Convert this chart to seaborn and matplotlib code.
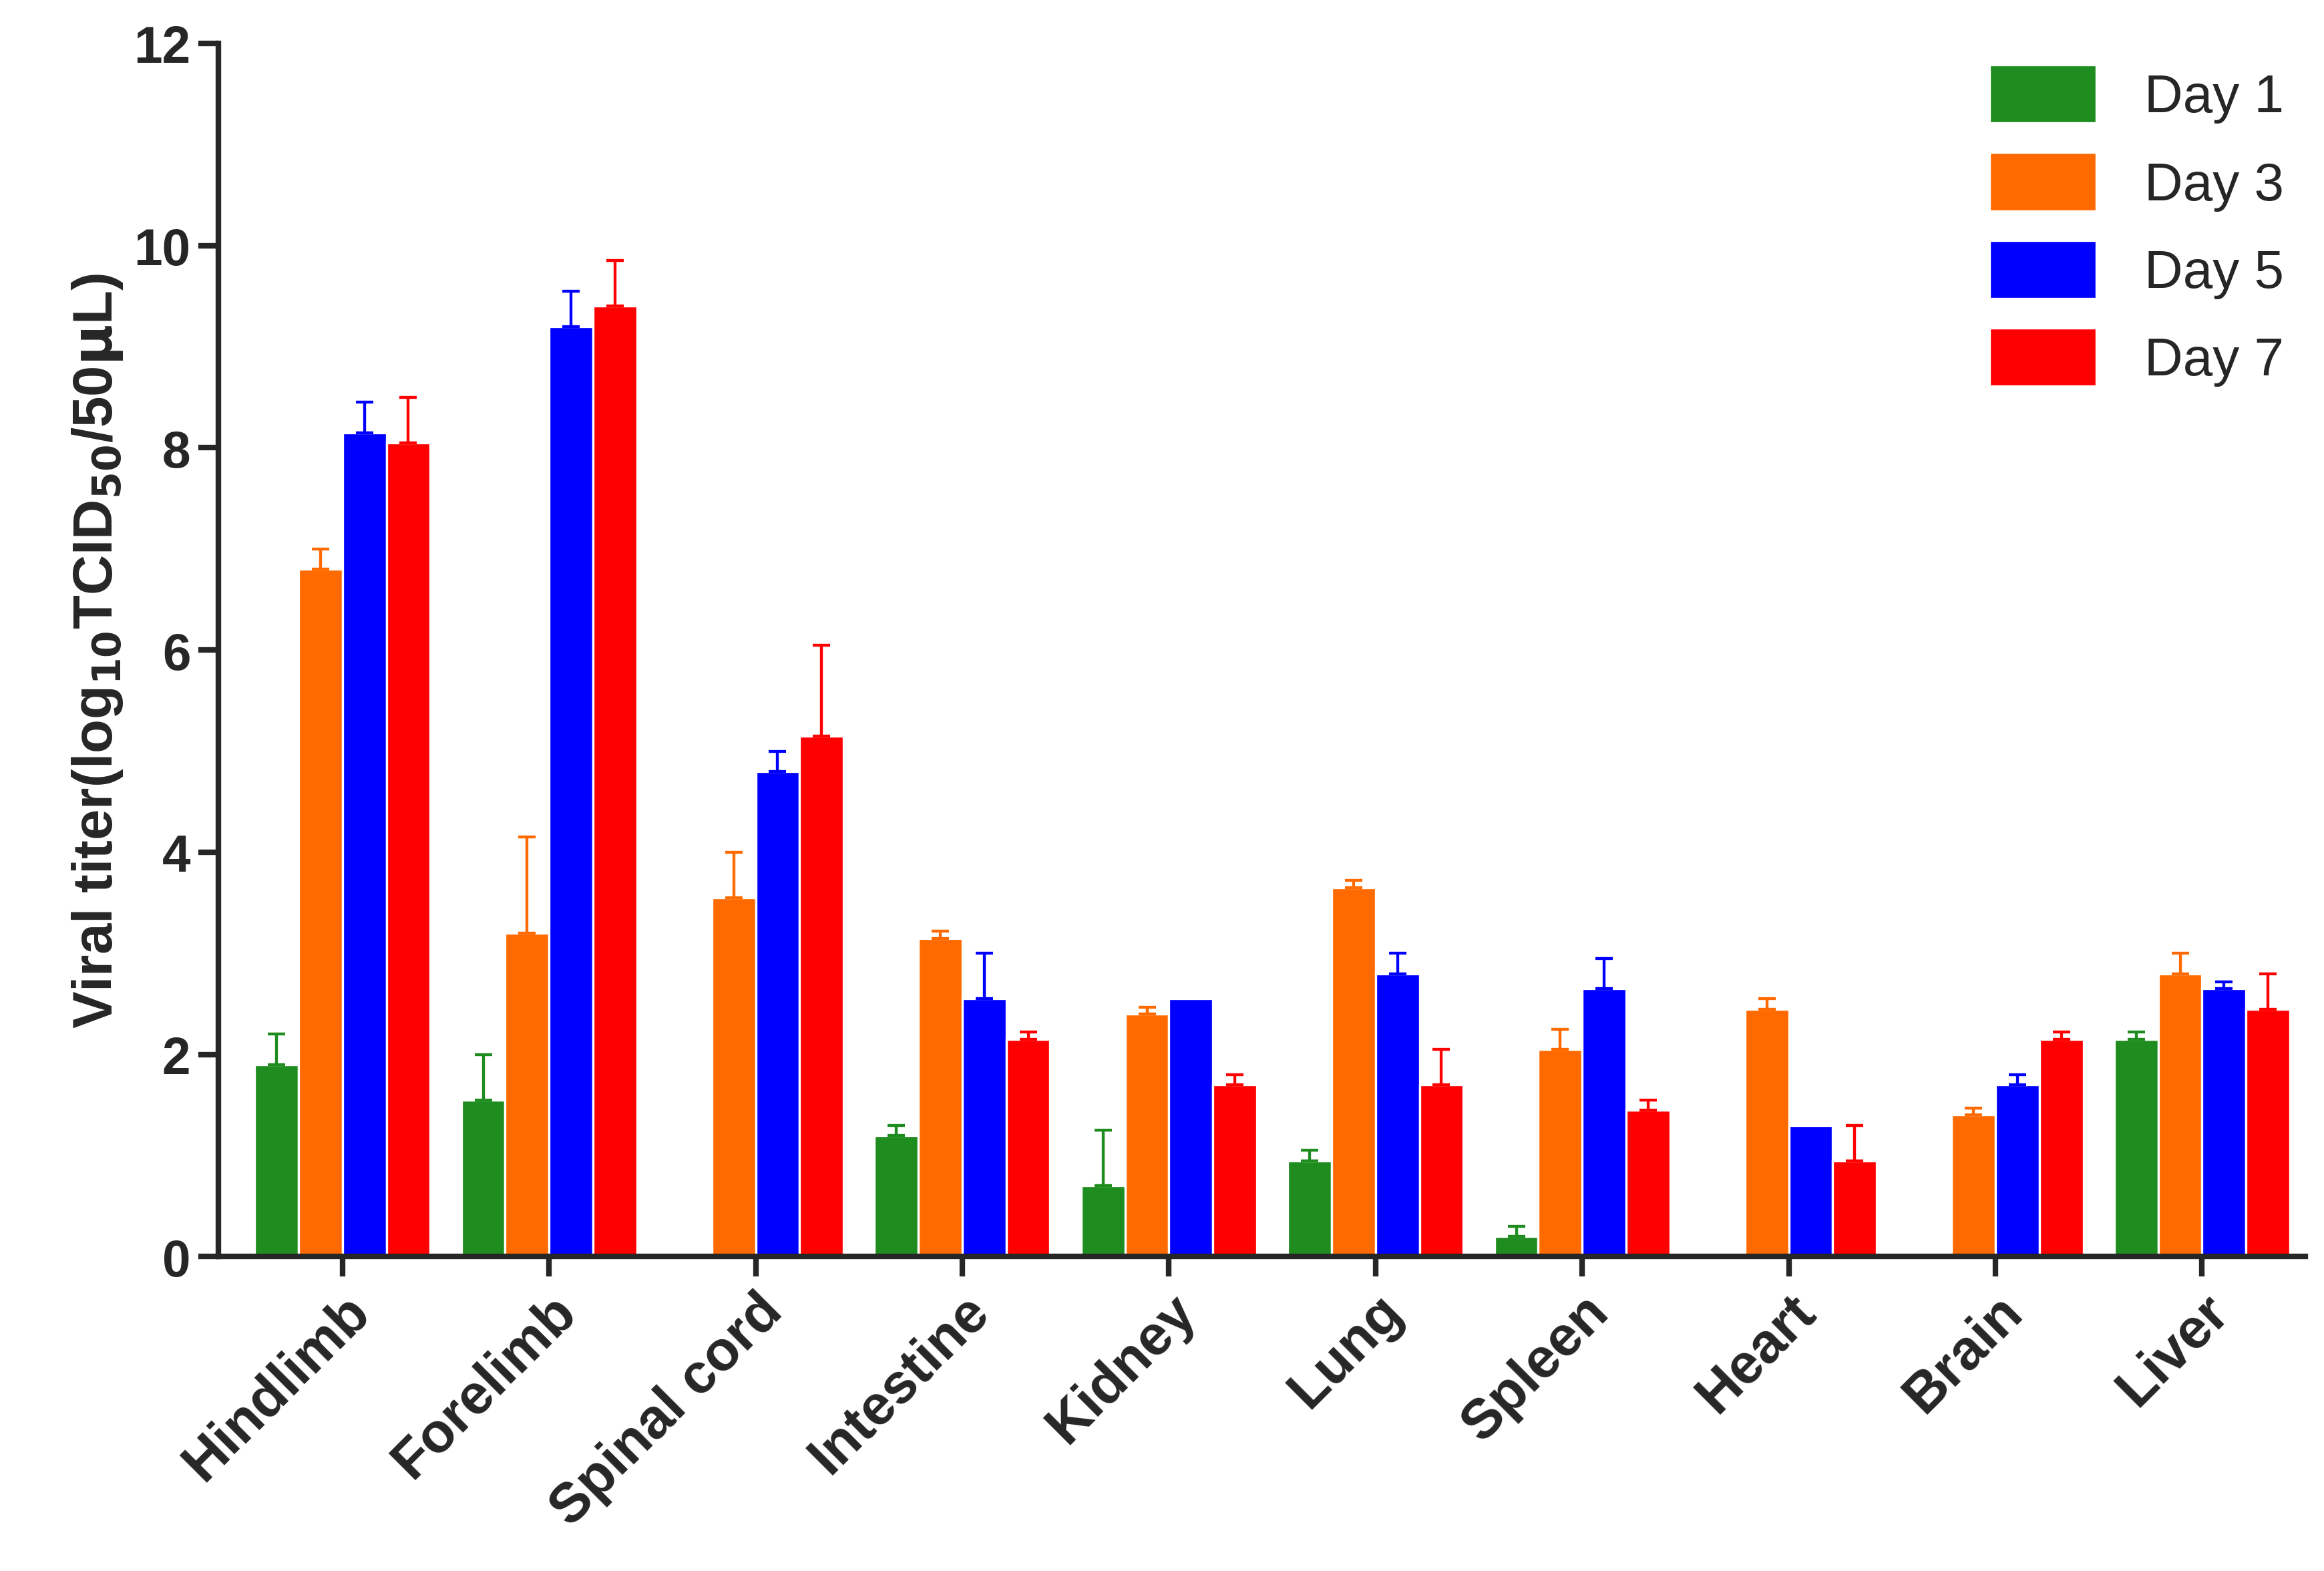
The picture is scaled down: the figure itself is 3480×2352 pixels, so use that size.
import numpy as np
import pandas as pd
import matplotlib
matplotlib.use("Agg")
import matplotlib.pyplot as plt
import seaborn as sns

tissues = ["Hindlimb", "Forelimb", "Spinal cord", "Intestine", "Kidney",
           "Lung", "Spleen", "Heart", "Brain", "Liver"]
days = ["Day 1", "Day 3", "Day 5", "Day 7"]
day1 = [1.9, 1.55, 0, 1.2, 0.7, 0.95, 0.2, 0, 0, 2.15]
day3 = [6.8, 3.2, 3.55, 3.15, 2.4, 3.65, 2.05, 2.45, 1.4, 2.8]
day5 = [8.15, 9.2, 4.8, 2.55, 2.55, 2.8, 2.65, 1.3, 1.7, 2.65]
day7 = [8.05, 9.4, 5.15, 2.15, 1.7, 1.7, 1.45, 0.95, 2.15, 2.45]
err1 = [0.3, 0.45, 0, 0.1, 0.55, 0.1, 0.1, 0, 0, 0.07]
err3 = [0.2, 0.95, 0.45, 0.07, 0.07, 0.07, 0.2, 0.1, 0.07, 0.2]
err5 = [0.3, 0.35, 0.2, 0.45, 0, 0.2, 0.3, 0, 0.1, 0.07]
err7 = [0.45, 0.45, 0.9, 0.07, 0.1, 0.35, 0.1, 0.35, 0.07, 0.35]
colors = ["#1E8C1E", "#FF6A00", "#0000FF", "#FF0000"]

values = [day1, day3, day5, day7]
errors = [err1, err3, err5, err7]
rows = []
for d, vals in zip(days, values):
    for t, v in zip(tissues, vals):
        rows.append({"tissue": t, "day": d, "titer": v})
df = pd.DataFrame(rows)

sns.set_style("ticks")
plt.rcParams["font.family"] = ["Arial", "Liberation Sans", "DejaVu Sans"]

fig = plt.figure(figsize=(14.5, 9.804), dpi=240)
ax = fig.add_axes([0.094, 0.2, 0.898, 0.772])
sns.barplot(data=df, x="tissue", y="titer", hue="day", order=tissues,
            hue_order=days, palette=colors, errorbar=None, width=0.85,
            edgecolor="white", linewidth=1.0, saturation=1, ax=ax)

for cont, errs, c in zip(ax.containers, errors, colors):
    for bar, e in zip(cont, errs):
        if e <= 0:
            continue
        x = bar.get_x() + bar.get_width() / 2
        h = bar.get_height()
        ax.errorbar(x, h, yerr=[[0], [e]], fmt="none", ecolor=c,
                    elinewidth=1.3, capsize=4, capthick=1.3)

ax.set_ylim(0, 12)
ax.set_xlim(-0.6, 9.5)
ax.set_yticks(range(0, 13, 2))
ax.set_ylabel(r"Viral titer(log$_{\mathbf{10}}$TCID$_{\mathbf{50}}$/50$\mathbf{\mu}$L)",
              fontsize=25, fontweight="bold", labelpad=4)
ax.set_xlabel("")
plt.setp(ax.get_xticklabels(), rotation=45, ha="right", rotation_mode="anchor",
         fontsize=25, fontweight="bold")
plt.setp(ax.get_yticklabels(), fontsize=23, fontweight="bold")
ax.tick_params(width=2.5, length=9, direction="out")
for s in ["left", "bottom"]:
    ax.spines[s].set_linewidth(2.5)
sns.despine(ax=ax)

leg = ax.legend(loc="upper right", frameon=False, fontsize=24, handlelength=2.0,
                handleheight=1.3, labelspacing=0.55, handletextpad=0.9,
                borderaxespad=0.0)
fig.savefig("out.png", dpi=240)
